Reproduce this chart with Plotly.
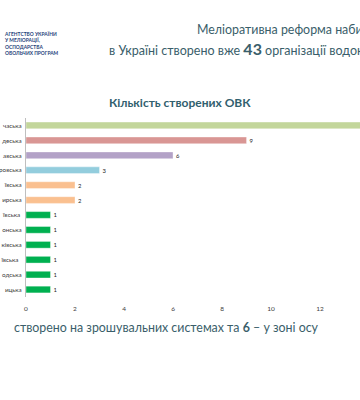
import plotly.graph_objects as go

regions = ["часька", "деська", "авська", "ровська", "ївська", "ирська",
           "ївська ", "онська", "ківська", "ївська  ", "одська", "ицька"]
counts = [15, 9, 6, 3, 2, 2, 1, 1, 1, 1, 1, 1]
colors = ["#c3d69b", "#d99694", "#b3a2c7", "#93cddd", "#fac090", "#fac090",
          "#00b050", "#00b050", "#00b050", "#00b050", "#00b050", "#00b050"]
x_ticks = [0, 2, 4, 6, 8, 10, 12]

FW, FH = 360, 400
L, R = 26, 360
T, B = 118, 297
H = B - T
def px(x):
    return (x - L) / (R - L)
def py(y):
    return (B - y) / H

fig = go.Figure(go.Bar(
    y=regions, x=counts, orientation="h",
    marker=dict(color=colors, line=dict(color="rgba(255,255,255,0.6)", width=0.6)),
    width=0.45,
    text=[str(c) for c in counts], textposition="outside",
    textfont=dict(size=7, color="#262626", family="Lato"),
    cliponaxis=False,
))

fig.update_layout(
    width=FW, height=FH,
    margin=dict(l=L, r=FW - R, t=T, b=FH - B, autoexpand=False),
    paper_bgcolor="white", plot_bgcolor="white",
    showlegend=False,
    font=dict(family="Lato", color="#404040"),
    xaxis=dict(range=[0, 13.63], tickvals=x_ticks, showgrid=False, zeroline=False,
               showline=False, tickfont=dict(size=6.5, color="#404040"), ticks="",
               ticklabelstandoff=6, automargin=False),
    yaxis=dict(autorange="reversed", showline=True, linecolor="#bfbfbf", linewidth=1,
               ticks="", tickfont=dict(size=6.3, color="#404040"), showgrid=False,
               ticklabelstandoff=2, automargin=False),
    annotations=[
        dict(text="<b>Кількість створених ОВК</b>", x=px(180), y=py(103), xref="paper",
             yref="paper", yanchor="middle", xanchor="center", showarrow=False,
             font=dict(size=12, color="#31606e", family="Lato")),
        dict(text="Меліоративна реформа наби", x=px(195), xref="paper", xanchor="left",
             y=py(29), yref="paper", yanchor="middle", showarrow=False,
             font=dict(size=12.4, color="#3a5e6a", family="Lato")),
        dict(text="в Україні створено вже <b><span style='font-size:16px'>43</span></b> організації водоко",
             x=px(107), xref="paper", xanchor="left",
             y=py(49), yref="paper", yanchor="middle", showarrow=False,
             font=dict(size=12.5, color="#3a5e6a", family="Lato")),
        dict(text="створено на зрошувальних системах та <b>6</b> – у зоні осу",
             x=px(12), xref="paper", xanchor="left",
             y=py(327), yref="paper", yanchor="middle", showarrow=False,
             font=dict(size=12.4, color="#3a5e6a", family="Lato")),
        dict(text="<b>АГЕНТСТВО УКРАЇНИ<br>У МЕЛІОРАЦІЇ,<br>ОСПОДАРСТВА<br>ОВОЛЬЧИХ ПРОГРАМ</b>",
             x=px(2), xref="paper", xanchor="left", align="left",
             y=py(43.5), yref="paper", yanchor="middle", showarrow=False,
             font=dict(size=4.9, color="#1f3f7a", family="Lato")),
    ],
)

fig.write_html("out.html", config={"displayModeBar": False},
               post_script="document.body.style.margin='0';")
